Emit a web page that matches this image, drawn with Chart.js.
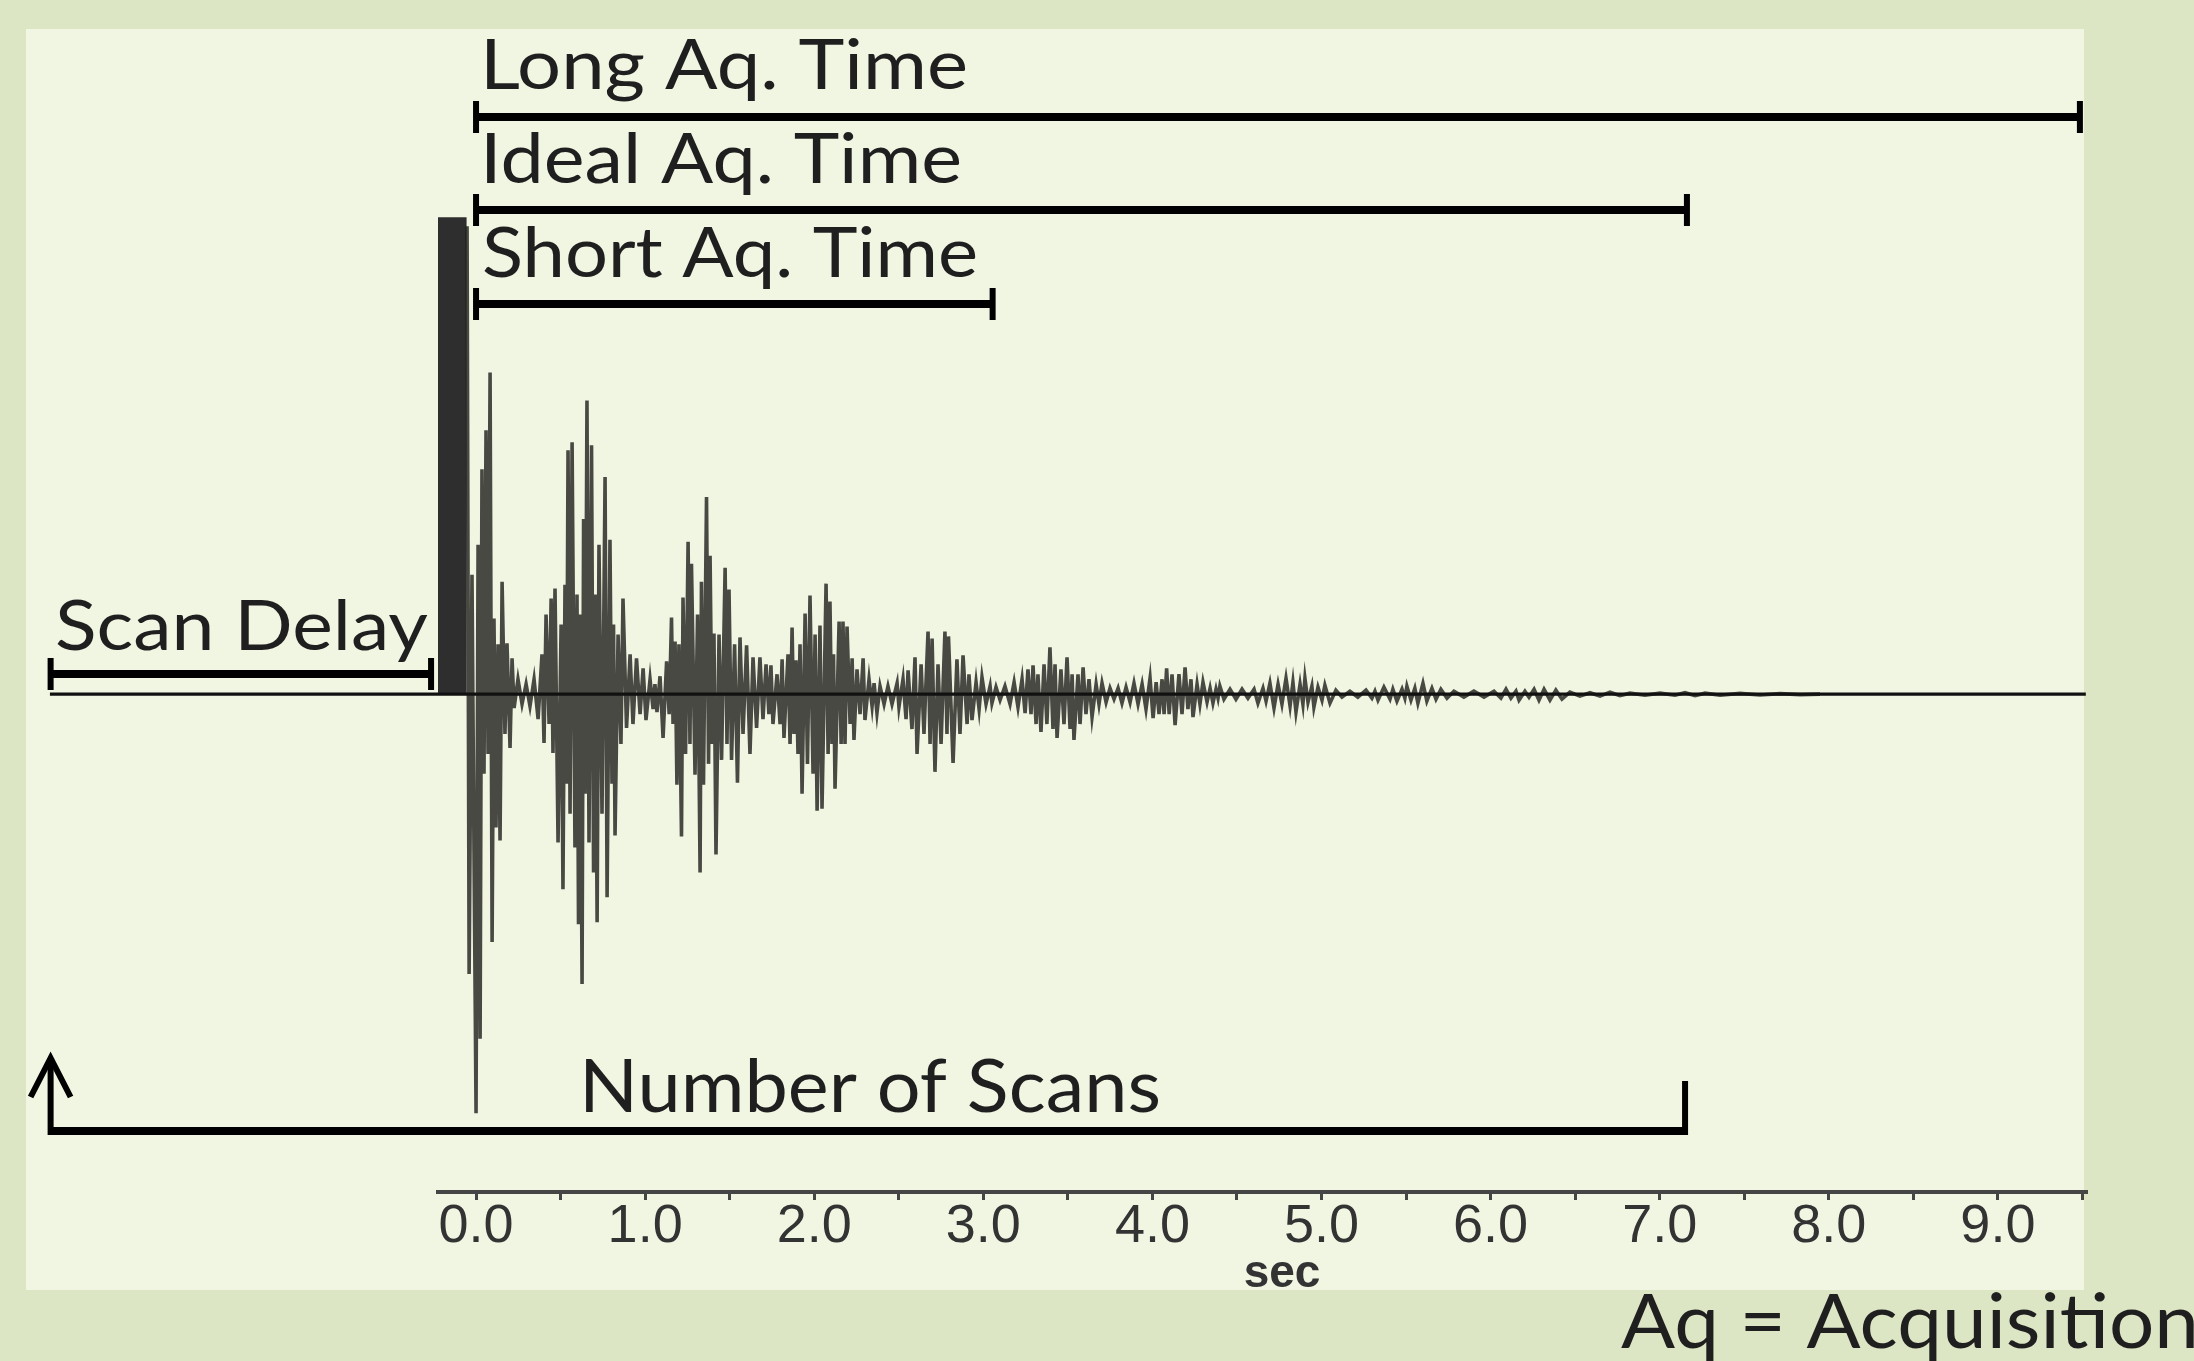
<!DOCTYPE html>
<html><head><meta charset="utf-8">
<script src="https://cdn.jsdelivr.net/npm/chart.js@4.4.1/dist/chart.umd.min.js"></script>
<style>html,body{margin:0;padding:0;background:#dce6c4;overflow:hidden}canvas{display:block}</style>
</head><body>
<canvas id="c" width="2194" height="1361"></canvas>
<script>
// ---- Free induction decay (time in sec, signal in arbitrary units) ----
const fidTime = [
 -0.053,-0.041,-0.024,-0.012,0.000,0.012,0.024,0.035,0.047,0.059,0.071,0.083,0.095,0.106,0.118,0.130,0.142,0.154,0.171,0.183,
 0.201,0.213,0.225,0.248,0.272,0.296,0.319,0.343,0.367,0.390,0.402,0.414,0.432,0.444,0.455,0.467,0.485,0.503,0.514,0.526,
 0.535,0.544,0.556,0.568,0.585,0.597,0.606,0.615,0.627,0.636,0.645,0.656,0.668,0.683,0.695,0.704,0.716,0.727,0.745,0.763,
 0.775,0.792,0.804,0.813,0.822,0.840,0.857,0.869,0.890,0.911,0.928,0.949,0.970,0.988,1.005,1.029,1.047,1.058,1.070,1.088,
 1.106,1.127,1.142,1.156,1.165,1.177,1.188,1.200,1.215,1.224,1.239,1.254,1.265,1.274,1.295,1.310,1.325,1.333,1.345,1.363,
 1.375,1.384,1.396,1.407,1.419,1.437,1.452,1.473,1.484,1.496,1.511,1.529,1.546,1.561,1.579,1.600,1.620,1.638,1.659,1.679,
 1.697,1.715,1.732,1.744,1.756,1.780,1.798,1.810,1.821,1.845,1.857,1.869,1.880,1.892,1.904,1.916,1.928,1.946,1.960,1.975,
 1.993,2.005,2.017,2.034,2.046,2.070,2.082,2.093,2.105,2.114,2.123,2.147,2.159,2.170,2.182,2.194,2.212,2.224,2.235,2.253,
 2.271,2.289,2.300,2.324,2.342,2.354,2.371,2.389,2.413,2.436,2.460,2.490,2.501,2.525,2.543,2.555,2.578,2.596,2.608,2.632,
 2.649,2.673,2.685,2.697,2.714,2.732,2.750,2.773,2.785,2.794,2.821,2.844,2.862,2.880,2.904,2.915,2.933,2.957,2.975,2.992,
 3.016,3.040,3.051,3.075,3.099,3.128,3.158,3.182,3.205,3.229,3.247,3.264,3.282,3.294,3.312,3.323,3.341,3.359,3.376,3.394,
 3.412,3.424,3.436,3.459,3.477,3.495,3.513,3.525,3.536,3.560,3.572,3.590,3.607,3.625,3.643,3.667,3.684,3.702,3.726,3.749,
 3.773,3.797,3.820,3.844,3.868,3.891,3.915,3.939,3.962,3.986,4.004,4.022,4.039,4.057,4.069,4.084,4.099,4.116,4.134,4.157,
 4.175,4.193,4.210,4.228,4.240,4.264,4.281,4.299,4.323,4.341,4.358,4.376,4.388,4.399,4.423,4.459,4.494,4.530,4.565,4.601,
 4.624,4.654,4.672,4.695,4.719,4.743,4.766,4.790,4.814,4.831,4.849,4.873,4.890,4.902,4.920,4.943,4.955,4.979,5.003,5.020,
 5.050,5.085,5.121,5.168,5.215,5.263,5.298,5.316,5.334,5.369,5.405,5.422,5.446,5.476,5.493,5.505,5.529,5.552,5.570,5.600,
 5.623,5.653,5.677,5.706,5.742,5.783,5.842,5.901,5.961,6.020,6.061,6.091,6.120,6.150,6.168,6.203,6.227,6.257,6.286,6.316,
 6.351,6.386,6.422,6.469,6.528,6.588,6.647,6.706,6.765,6.824,6.913,7.002,7.090,7.150,7.209,7.268,7.357,7.475,7.593,7.712,
 7.830,7.948
];
const fidSignal = [
 4.70,-2.81,1.20,-1.58,-4.21,1.50,-3.46,2.26,-0.80,2.65,-0.60,3.23,-2.49,0.76,-1.34,0.50,-1.47,1.13,-0.40,0.51,
 -0.54,0.36,-0.14,0.15,-0.10,0.10,-0.12,0.15,-0.25,0.40,-0.49,0.80,-0.30,0.96,-0.59,1.06,-1.49,0.70,-1.96,1.10,
 -0.90,2.45,-1.20,2.53,-1.54,1.00,-2.31,0.80,-2.91,1.76,-1.00,2.95,-1.49,2.50,-1.79,1.00,-2.29,1.50,-1.20,2.18,
 -2.04,1.55,-0.90,0.70,-1.42,0.60,-0.50,0.96,-0.34,0.40,-0.30,0.36,-0.20,0.26,-0.26,0.15,-0.15,0.10,-0.18,0.18,
 -0.44,0.33,-0.20,0.77,-0.30,0.53,-0.91,0.50,-1.43,0.97,-0.60,1.53,-0.50,1.31,-0.81,0.80,-1.79,1.13,-0.91,1.98,
 -0.70,1.39,-0.50,0.61,-1.61,0.60,-0.66,1.27,-0.50,1.05,-0.66,0.50,-0.89,0.57,-0.40,0.49,-0.60,0.37,-0.34,0.37,
 -0.25,0.30,-0.20,0.29,-0.30,0.20,-0.30,0.35,-0.44,0.40,-0.50,0.67,-0.40,0.34,-0.60,0.50,-1.00,0.81,-0.70,0.99,
 -0.80,0.60,-1.17,0.69,-1.15,1.11,-0.60,0.93,-0.50,0.40,-0.95,0.73,-0.50,0.73,-0.50,0.68,-0.30,0.36,-0.46,0.25,
 -0.20,0.36,-0.26,0.15,-0.12,0.11,-0.19,0.08,-0.10,0.08,-0.10,0.11,-0.13,0.15,-0.25,0.24,-0.35,0.37,-0.60,0.30,
 -0.40,0.63,-0.50,0.56,-0.78,0.30,-0.50,0.63,-0.40,0.58,-0.69,0.35,-0.40,0.39,-0.30,0.20,-0.26,0.12,-0.15,0.17,
 -0.10,0.08,-0.09,0.07,-0.06,0.08,-0.10,0.12,-0.13,0.15,-0.19,0.25,-0.20,0.29,-0.30,0.20,-0.38,0.30,-0.30,0.47,
 -0.35,0.30,-0.44,0.25,-0.30,0.37,-0.35,0.20,-0.46,0.20,-0.30,0.27,-0.20,0.15,-0.23,0.10,-0.10,0.11,-0.08,0.06,
 -0.05,0.06,-0.09,0.07,-0.08,0.11,-0.10,0.10,-0.15,0.16,-0.24,0.12,-0.20,0.15,-0.20,0.26,-0.20,0.20,-0.31,0.20,
 -0.20,0.27,-0.15,0.15,-0.23,0.10,-0.10,0.12,-0.08,0.06,-0.09,0.05,-0.04,0.08,-0.05,0.05,-0.05,0.05,-0.04,0.05,
 -0.09,0.06,-0.07,0.11,-0.14,0.10,-0.10,0.16,-0.12,0.12,-0.18,0.10,-0.10,0.16,-0.08,0.08,-0.13,0.07,-0.06,0.09,
 -0.09,0.04,-0.03,0.03,-0.03,0.04,-0.04,0.03,-0.06,0.07,-0.05,0.05,-0.07,0.05,-0.04,0.08,-0.06,0.06,-0.09,0.11,
 -0.07,0.06,-0.05,0.05,-0.04,0.03,-0.03,0.03,-0.03,0.03,-0.04,0.05,-0.04,0.03,-0.06,0.03,-0.03,0.05,-0.06,0.05,
 -0.06,0.04,-0.05,0.02,-0.02,0.015,-0.02,0.02,-0.015,0.01,-0.01,0.01,-0.01,0.015,-0.015,0.01,-0.01,0.008,-0.008,0.005,
 -0.005,0
];
// zero line of the trace (sec, signal)
const baselineTime = [-2.52, 9.52];
const baselineSignal = [0, 0];
// excitation pulse (sec, signal)
const pulseStart = -0.225;
const pulseEnd = -0.056;
const pulseTop = 4.79;
// axis tick labels (whole seconds)
const tickLabels = ['0.0','1.0','2.0','3.0','4.0','5.0','6.0','7.0','8.0','9.0'];
const axisTitle = 'sec';
// timing spans (sec)
const spanLabels = ['Long Aq. Time','Ideal Aq. Time','Short Aq. Time','Scan Delay','Number of Scans'];
const spanStart  = [0.0, 0.0, 0.0, -2.516, -2.516];
const spanEnd    = [9.485, 7.161, 3.055, -0.266, 7.150];
const footnote = 'Aq = Acquisition';

// ---- drawing ----
const OUTER = '#dce6c4', PANEL = '#f1f6e3', INK = '#000000', TEXT = '#1f1f1f';
// per-span layout: bar y (px), cap extents, label position/size
const spanStyle = [
  {y:117, cap:[101,133], tx:480, ty:89, size:69, w:488},
  {y:210, cap:[194,226], tx:480, ty:183, size:69, w:482},
  {y:304, cap:[288,320], tx:482, ty:277, size:69, w:496},
  {y:674, cap:[658,690], tx:55, ty:650, size:69, w:373},
  {y:1131, cap:[1081,1135], tx:579, ty:1112, size:74, w:582, arrow:true}
];

function fitText(c, text, x, y, size, w) {
  c.save();
  c.font = size + 'px Lato';
  c.fillStyle = TEXT;
  c.textBaseline = 'alphabetic';
  c.textAlign = 'left';
  const m = c.measureText(text).width;
  c.translate(x, y);
  c.scale(w / m, 1);
  c.fillText(text, 0, 0);
  c.restore();
}

const annot = {
  id: 'annot',
  beforeDraw(chart) {
    const c = chart.ctx;
    c.save();
    c.fillStyle = OUTER; c.fillRect(0, 0, chart.width, chart.height);
    c.fillStyle = PANEL; c.fillRect(26, 29, 2058, 1261);
    c.restore();
  },
  beforeDatasetsDraw(chart) {
    const c = chart.ctx, xs = chart.scales.x, ys = chart.scales.y;
    const x1 = xs.getPixelForValue(pulseStart), x2 = xs.getPixelForValue(pulseEnd);
    const y1 = ys.getPixelForValue(pulseTop), y2 = ys.getPixelForValue(0);
    c.save();
    c.fillStyle = '#2e2e2e';
    c.fillRect(x1, y1, x2 - x1, y2 - y1);
    c.restore();
  },
  afterDatasetsDraw(chart) {
    const c = chart.ctx, xs = chart.scales.x;
    c.save();
    c.fillStyle = INK; c.strokeStyle = INK;
    spanLabels.forEach((lab, i) => {
      const s = spanStyle[i];
      const x1 = xs.getPixelForValue(spanStart[i]);
      const x2 = xs.getPixelForValue(spanEnd[i]);
      const th = 8;
      c.fillRect(x1, s.y - th / 2, x2 - x1, th);
      if (s.arrow) {
        c.fillRect(x2 - 3, s.cap[0], 6, s.cap[1] - s.cap[0]);
        c.fillRect(x1 - 3, 1060, 6, s.y + th / 2 - 1060);
        c.lineWidth = 6; c.lineCap = 'butt'; c.lineJoin = 'miter';
        c.beginPath();
        c.moveTo(x1 - 20, 1097); c.lineTo(x1, 1058); c.lineTo(x1 + 20, 1097);
        c.stroke();
      } else {
        c.fillRect(x1 - 3, s.cap[0], 6, s.cap[1] - s.cap[0]);
        c.fillRect(x2 - 3, s.cap[0], 6, s.cap[1] - s.cap[0]);
      }
      fitText(c, lab, s.tx, s.ty, s.size, s.w);
    });
    fitText(c, footnote, 1621, 1348, 76, 578);
    // axis title, drawn centred on its place under the axis
    c.font = 'bold 46px "Liberation Sans"';
    c.fillStyle = '#333333';
    c.textAlign = 'center'; c.textBaseline = 'middle';
    c.fillText(axisTitle, 1282, 1274);
    c.restore();
  }
};

new Chart(document.getElementById('c'), {
  type: 'line',
  data: {
    datasets: [
      {
        data: baselineTime.map((t, i) => ({x: t, y: baselineSignal[i]})),
        borderColor: '#111111', borderWidth: 3.2, pointRadius: 0, clip: false
      },
      {
        data: fidTime.map((t, i) => ({x: t, y: fidSignal[i]})),
        borderColor: 'rgba(30,30,26,0.8)', borderWidth: 3.6, pointRadius: 0,
        tension: 0, borderJoinStyle: 'miter', clip: false
      }
    ]
  },
  options: {
    responsive: false,
    devicePixelRatio: 1,
    animation: false,
    events: [],
    layout: {padding: {left: 438, right: 107, top: 47, bottom: 0}},
    plugins: {legend: {display: false}, tooltip: {enabled: false}},
    scales: {
      x: {
        type: 'linear', position: 'bottom',
        min: -0.225, max: 9.527,
        afterFit(scale) { scale.height = 169; },
        border: {display: true, color: '#454545', width: 4},
        grid: {drawOnChartArea: false, drawTicks: true, tickLength: 8, tickWidth: 3, tickColor: '#454545'},
        ticks: {
          stepSize: 0.5, includeBounds: false, autoSkip: false, maxRotation: 0, minRotation: 0,
          padding: 0, color: '#333333',
          font: {family: 'Liberation Sans', size: 54, lineHeight: 1},
          callback(v) {
            const r = Math.round(v);
            return Math.abs(v - r) < 1e-6 && tickLabels[r] !== undefined ? tickLabels[r] : '';
          }
        },
        title: {display: false, text: axisTitle}
      },
      y: {display: false, min: -5, max: 6.5}
    }
  },
  plugins: [annot]
});
</script>
</body></html>
